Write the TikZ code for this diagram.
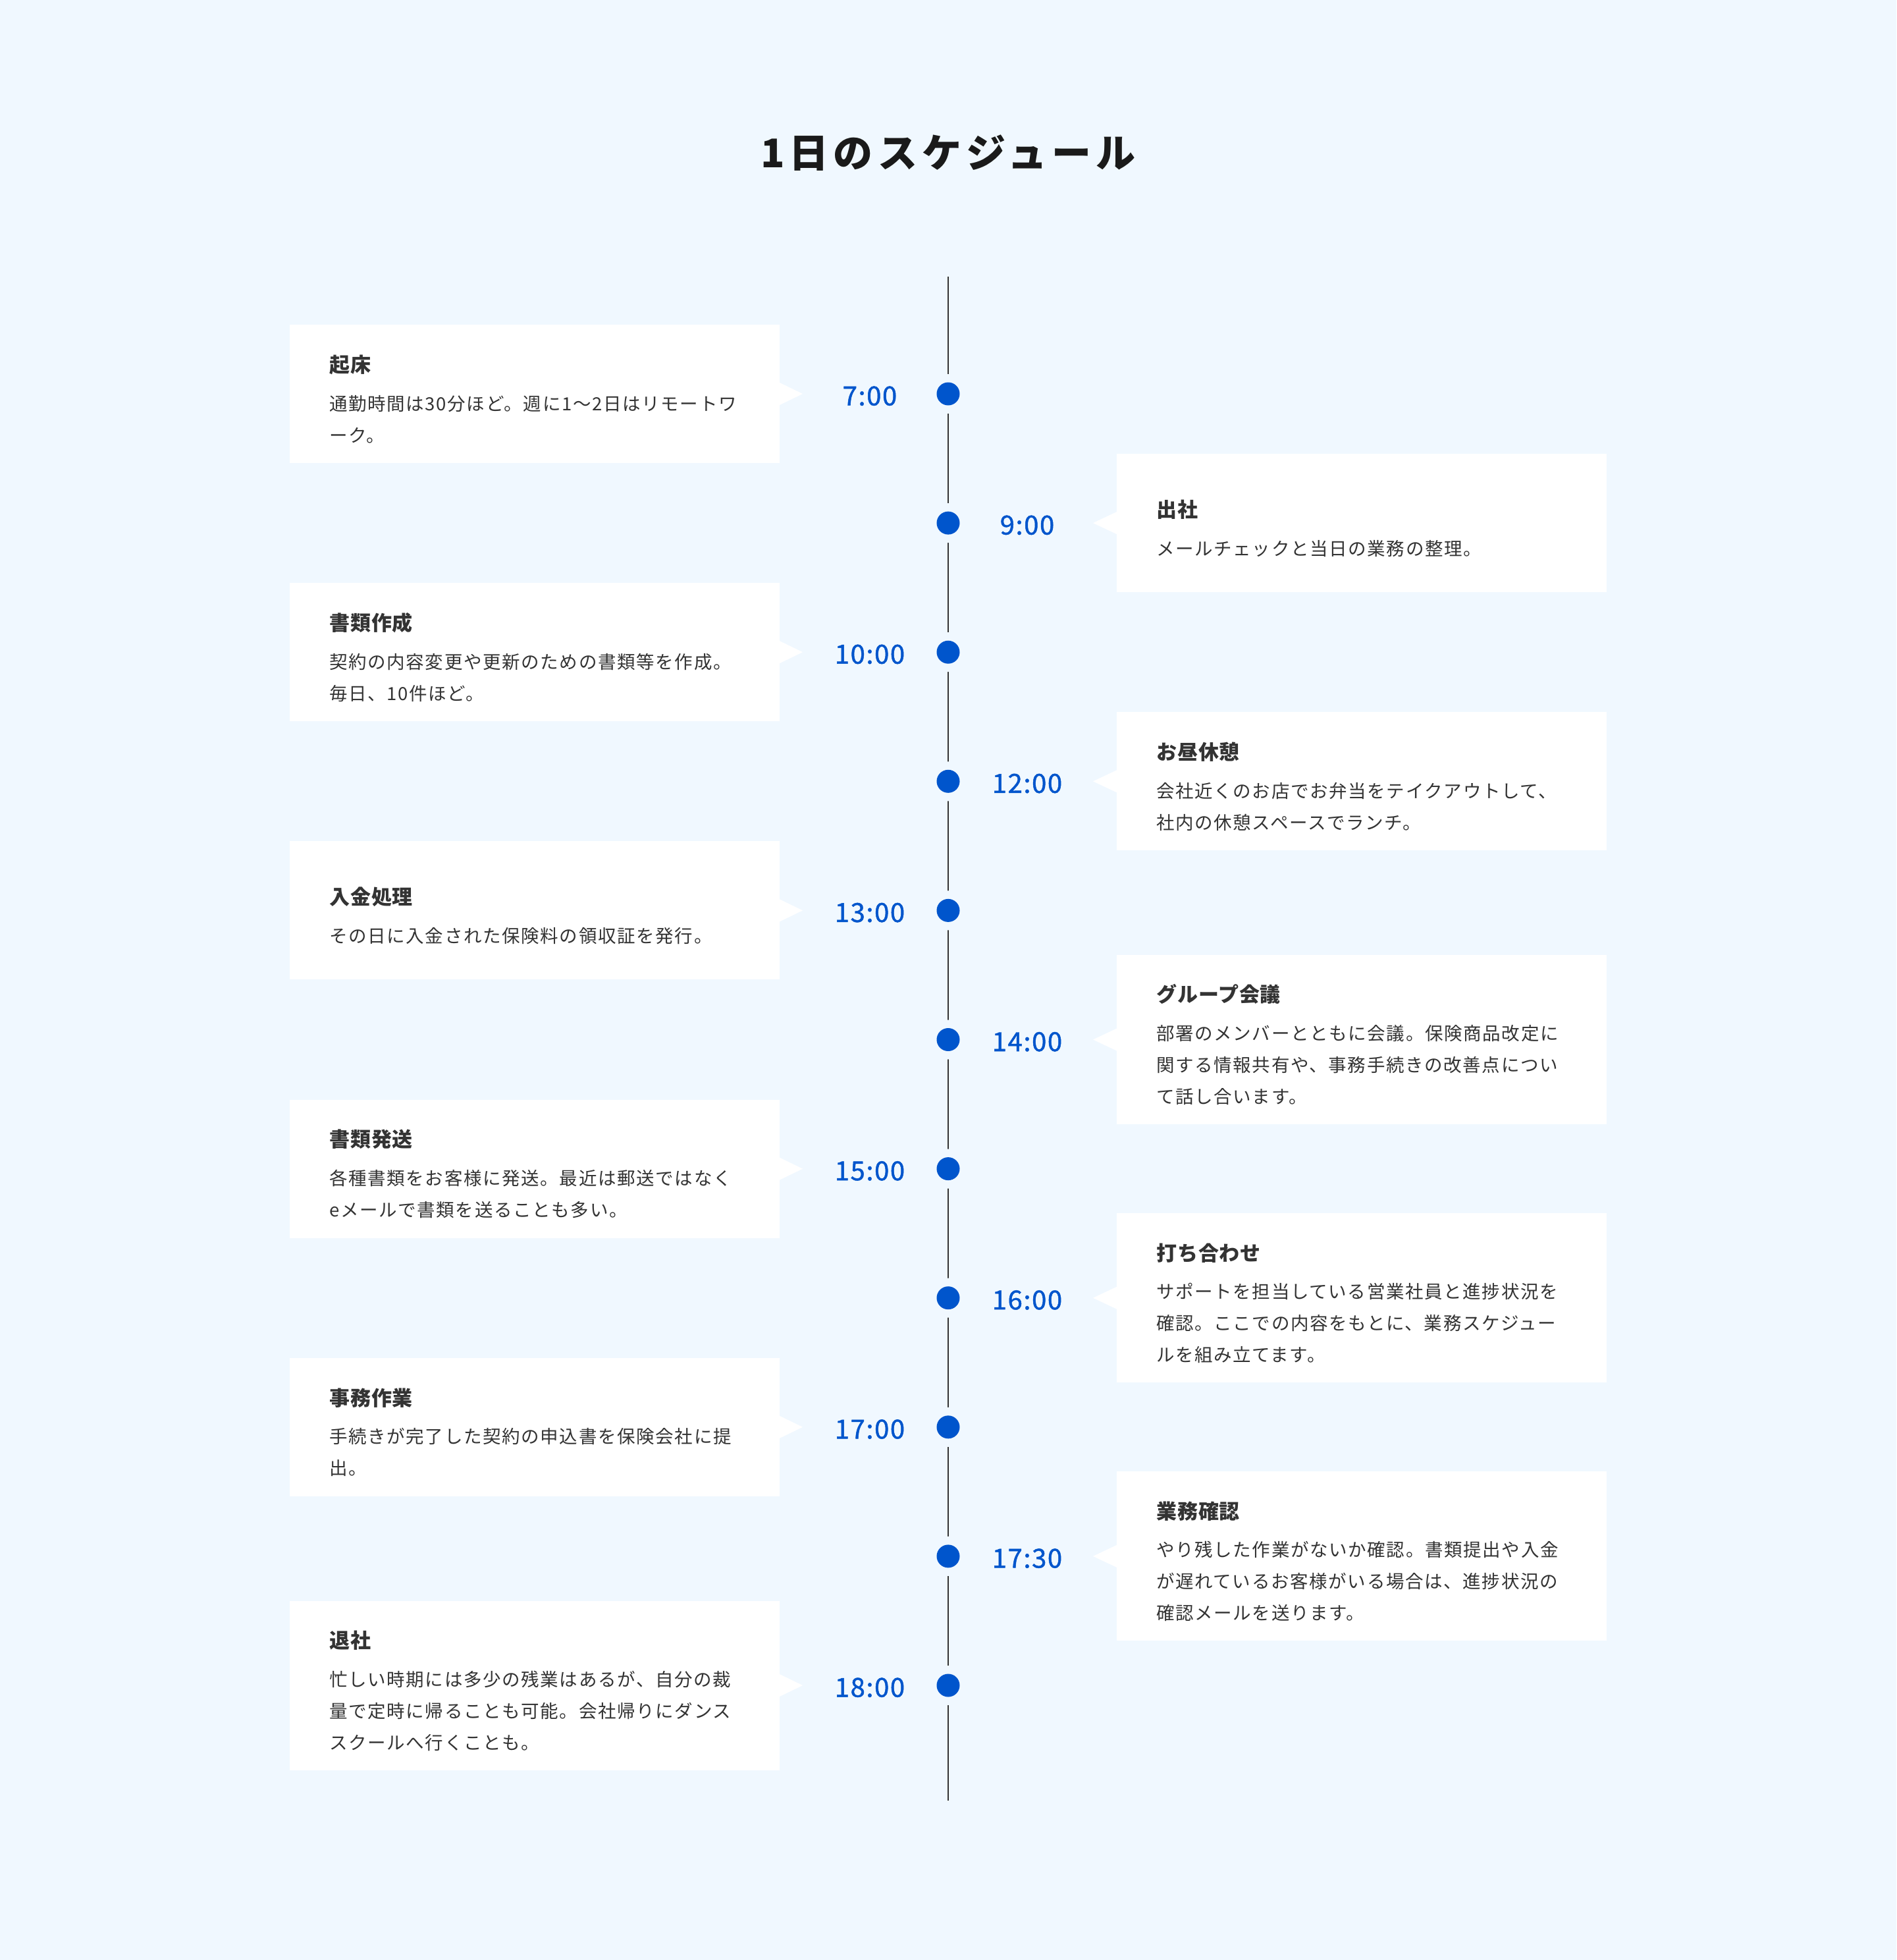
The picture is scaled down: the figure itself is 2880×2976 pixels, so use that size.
\documentclass[tikz,border=0pt]{standalone}
\usepackage{fontspec}
\newfontfamily\jpbody{Noto Sans CJK JP}[LetterSpace=6]
\newfontfamily\jphead{Noto Sans CJK JP}[LetterSpace=3]
\newfontfamily\jptime{Noto Sans CJK JP}[LetterSpace=4,FakeBold=1.2]
\newfontfamily\jptitle{Noto Sans CJK JP}[LetterSpace=12]
\definecolor{bgc}{HTML}{F0F8FF}
\definecolor{ink}{HTML}{333333}
\definecolor{titleink}{HTML}{1A1A1A}
\definecolor{accent}{HTML}{0055CC}
\tikzset{
 bodytext/.style={anchor=base west, inner sep=0pt, text=ink, font=\jpbody\fontsize{27.5}{27.5}\selectfont},
 headtext/.style={anchor=base west, inner sep=0pt, text=ink, font=\jphead\bfseries\fontsize{31}{31}\selectfont},
 timetext/.style={anchor=base, inner sep=0pt, text=accent, font=\jptime\fontsize{40}{40}\selectfont},
 card/.style={fill=white, draw=none, inner sep=0pt, minimum width=744pt},
 dotmark/.style={circle, fill=accent, draw=none, inner sep=0pt, minimum size=35pt},
 spine/.style={draw=ink, line width=2pt},
 pagetitle/.style={inner sep=0pt, text=titleink, font=\jptitle\bfseries\fontsize{60}{60}\selectfont},
}
% #1 name, #2 index, #3 side (0 left, 1 right), #4 time, #5 heading, #6 lines, #7-#9 body lines
\newcommand\tlitem[9]{%
 \pgfmathsetmacro\tlY{598+196.1*#2}%
 \pgfmathsetmacro\tlS{59+48*(#6-1)}%
 \pgfmathsetmacro\tlH{max(210,\tlS+102)}%
 \pgfmathsetmacro\tlT{\tlY-\tlH/2+(\tlH-\tlS-102)/2+60}%
 \ifnum#3=0
   \def\tlBX{812}\def\tlEdge{1184}\def\tlTip{1219}\def\tlTX{1321}\def\tlXX{500}%
 \else
   \def\tlBX{2068}\def\tlEdge{1696}\def\tlTip{1660}\def\tlTX{1560}\def\tlXX{1756}%
 \fi
 \node[card, minimum height=\tlH pt] (#1box) at (\tlBX,\tlY) {};
 \fill[white] (\tlEdge,\tlY-17) -- (\tlTip,\tlY) -- (\tlEdge,\tlY+17) -- cycle;
 \fill[bgc] (1440,\tlY) circle[radius=30pt];
 \node[dotmark] (#1dot) at (1440,\tlY) {};
 \node[timetext] (#1time) at (\tlTX,\tlY+17.5) {#4};
 \node[headtext] (#1head) at (\tlXX,\tlT+11.8) {#5};
 \node[bodytext] (#1a) at (\tlXX,\tlT+69.5) {#7};
 \ifnum#6>1 \node[bodytext] (#1b) at (\tlXX,\tlT+117.5) {#8};\fi
 \ifnum#6>2 \node[bodytext] (#1c) at (\tlXX,\tlT+165.5) {#9};\fi
}
\begin{document}
\begin{tikzpicture}[x=1pt,y=-1pt]
\fill[bgc] (0,0) rectangle (2880,2976);
\useasboundingbox (0,0) rectangle (2880,2976);
\node[pagetitle] (title) at (1440,232) {1日のスケジュール};
\coordinate (tltop) at (1440,420);
\coordinate (tlbot) at (1440,2734);
\draw[spine] (tltop) -- (tlbot);
\tlitem{e1}{0}{0}{7:00}{起床}{2}{通勤時間は30分ほど。週に1〜2日はリモートワ}{ーク。}{}
\tlitem{e2}{1}{1}{9:00}{出社}{1}{メールチェックと当日の業務の整理。}{}{}
\tlitem{e3}{2}{0}{10:00}{書類作成}{2}{契約の内容変更や更新のための書類等を作成。}{毎日、10件ほど。}{}
\tlitem{e4}{3}{1}{12:00}{お昼休憩}{2}{会社近くのお店でお弁当をテイクアウトして、}{社内の休憩スペースでランチ。}{}
\tlitem{e5}{4}{0}{13:00}{入金処理}{1}{その日に入金された保険料の領収証を発行。}{}{}
\tlitem{e6}{5}{1}{14:00}{グループ会議}{3}{部署のメンバーとともに会議。保険商品改定に}{関する情報共有や、事務手続きの改善点につい}{て話し合います。}
\tlitem{e7}{6}{0}{15:00}{書類発送}{2}{各種書類をお客様に発送。最近は郵送ではなく}{eメールで書類を送ることも多い。}{}
\tlitem{e8}{7}{1}{16:00}{打ち合わせ}{3}{サポートを担当している営業社員と進捗状況を}{確認。ここでの内容をもとに、業務スケジュー}{ルを組み立てます。}
\tlitem{e9}{8}{0}{17:00}{事務作業}{2}{手続きが完了した契約の申込書を保険会社に提}{出。}{}
\tlitem{e10}{9}{1}{17:30}{業務確認}{3}{やり残した作業がないか確認。書類提出や入金}{が遅れているお客様がいる場合は、進捗状況の}{確認メールを送ります。}
\tlitem{e11}{10}{0}{18:00}{退社}{3}{忙しい時期には多少の残業はあるが、自分の裁}{量で定時に帰ることも可能。会社帰りにダンス}{スクールへ行くことも。}
\end{tikzpicture}
\end{document}
